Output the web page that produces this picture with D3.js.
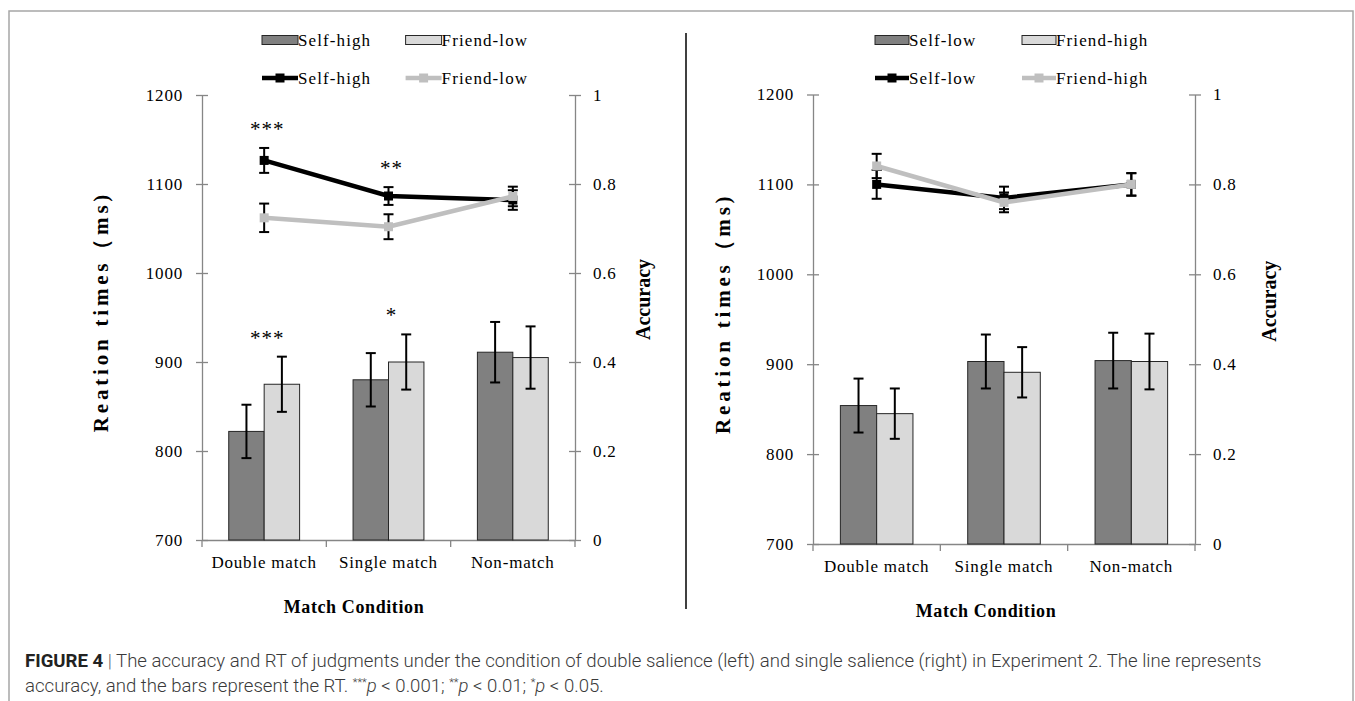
<!DOCTYPE html>
<html>
<head>
<meta charset="utf-8">
<script src="https://cdn.jsdelivr.net/npm/d3@7"></script>
<style>
  body { margin: 0; background: #fff; }
  text { font-family: "Liberation Serif", "Times New Roman", serif; }
</style>
</head>
<body>
<svg id="fig" width="1355" height="701"></svg>
<script>
const conditions = ['Double match', 'Single match', 'Non-match'];
const rtTicks = [700, 800, 900, 1000, 1100, 1200];
const accTicks = [0, 0.2, 0.4, 0.6, 0.8, 1];

// left panel: double salience
const leftSeries = ['Self-high', 'Friend-low'];
const leftRT = [[822, 880, 911], [875, 900, 905]];
const leftRTErr = [[30, 30, 34], [31, 31, 35]];
const leftAcc = [[0.853, 0.773, 0.764], [0.724, 0.704, 0.772]];
const leftAccErr = [[0.028, 0.02, 0.022], [0.032, 0.028, 0.022]];
const leftLineStars = ['***', '**', ''];
const leftBarStars = ['***', '*', ''];

// right panel: single salience
const rightSeries = ['Self-low', 'Friend-high'];
const rightRT = [[854, 903, 904], [845, 891, 903]];
const rightRTErr = [[30, 30, 31], [28, 28, 31]];
const rightAcc = [[0.80, 0.77, 0.80], [0.841, 0.76, 0.80]];
const rightAccErr = [[0.032, 0.025, 0.025], [0.027, 0.022, 0.025]];
const rightLineStars = ['', '', ''];
const rightBarStars = ['', '', ''];

const barFill = ['#808080', '#d9d9d9'];
const lineColor = ['#000000', '#bfbfbf'];
const axisColor = '#868686';

const svg = d3.select('#fig');

// outer frame and divider
svg.append('rect')
  .attr('x', 9).attr('y', 11).attr('width', 1344).attr('height', 720)
  .attr('fill', 'none').attr('stroke', '#a6a6a6').attr('stroke-width', 1.5);
svg.append('line')
  .attr('x1', 686).attr('x2', 686).attr('y1', 33).attr('y2', 609)
  .attr('stroke', '#000').attr('stroke-width', 1.5);

const panels = [
  { x0: 202, x1: 575, y0: 95, y1: 540, series: leftSeries, rt: leftRT, rtErr: leftRTErr,
    acc: leftAcc, accErr: leftAccErr, lineStars: leftLineStars, barStars: leftBarStars,
    legendX: [262, 405.6], swatchW: 36, yTitleX: 108, accTitleX: 650, xTitleX: 354 },
  { x0: 813, x1: 1195, y0: 94.5, y1: 544, series: rightSeries, rt: rightRT, rtErr: rightRTErr,
    acc: rightAcc, accErr: rightAccErr, lineStars: rightLineStars, barStars: rightBarStars,
    legendX: [875, 1022], swatchW: 34, yTitleX: 730, accTitleX: 1276, xTitleX: 986 }
];

function errBar(g, cx, yTop, yBot) {
  const cap = 5;
  g.append('line').attr('x1', cx).attr('x2', cx).attr('y1', yTop).attr('y2', yBot);
  g.append('line').attr('x1', cx - cap).attr('x2', cx + cap).attr('y1', yTop).attr('y2', yTop);
  g.append('line').attr('x1', cx - cap).attr('x2', cx + cap).attr('y1', yBot).attr('y2', yBot);
}

function styleAxis(a) {
  a.attr('font-family', '"Liberation Serif", serif').attr('font-size', 17);
  a.select('.domain').attr('stroke', axisColor).attr('stroke-width', 1.3);
  a.selectAll('.tick line').attr('stroke', axisColor).attr('stroke-width', 1.3);
  a.selectAll('.tick text').attr('fill', '#000').attr('letter-spacing', 0.8);
}

function drawPanel(p) {
  const g = svg.append('g');
  const x = d3.scaleBand().domain(conditions).range([p.x0, p.x1]);
  const yRT = d3.scaleLinear().domain([700, 1200]).range([p.y1, p.y0]);
  const yAcc = d3.scaleLinear().domain([0, 1]).range([p.y1, p.y0]);
  const half = x.bandwidth() * 0.285;
  const xs = d3.scaleBand().domain([0, 1]).range([-half, half]);
  const cx = i => x(conditions[i]) + x.bandwidth() / 2;

  // axes
  const ax = g.append('g').attr('transform', `translate(${p.x0},0)`)
    .call(d3.axisLeft(yRT).tickValues(rtTicks).tickFormat(d3.format('d'))
      .tickSize(6).tickSizeOuter(0).tickPadding(13));
  styleAxis(ax);
  ax.selectAll('.tick line').attr('x1', 6);

  const ar = g.append('g').attr('transform', `translate(${p.x1},0)`)
    .call(d3.axisRight(yAcc).tickValues(accTicks).tickFormat(d => String(d))
      .tickSize(6).tickSizeOuter(0).tickPadding(12));
  styleAxis(ar);
  ar.selectAll('.tick line').attr('x1', -6);

  const ab = g.append('g').attr('transform', `translate(0,${p.y1})`)
    .call(d3.axisBottom(x).tickSize(0).tickSizeOuter(0).tickPadding(16));
  styleAxis(ab);
  const bounds = conditions.map(c => x(c)).concat([x.range()[1]]);
  ab.selectAll('.bound').data(bounds).join('line').attr('class', 'bound')
    .attr('x1', d => d).attr('x2', d => d).attr('y1', 0).attr('y2', 7)
    .attr('stroke', axisColor).attr('stroke-width', 1.3);

  // bars
  p.rt.forEach((vals, s) => {
    g.append('g').selectAll('rect').data(vals).join('rect')
      .attr('x', (d, i) => cx(i) + xs(s))
      .attr('y', d => yRT(d))
      .attr('width', xs.bandwidth())
      .attr('height', d => yRT(700) - yRT(d))
      .attr('fill', barFill[s]).attr('stroke', '#262626').attr('stroke-width', 1);
  });
  const be = g.append('g').attr('stroke', '#000').attr('stroke-width', 2);
  p.rt.forEach((vals, s) => {
    vals.forEach((d, i) => {
      const bx = cx(i) + xs(s) + xs.bandwidth() / 2;
      errBar(be, bx, yRT(d + p.rtErr[s][i]), yRT(d - p.rtErr[s][i]));
    });
  });

  // accuracy lines
  const line = d3.line().x((d, i) => cx(i)).y(d => yAcc(d));
  p.acc.forEach((vals, s) => {
    g.append('path').datum(vals).attr('d', line)
      .attr('fill', 'none').attr('stroke', lineColor[s]).attr('stroke-width', 4.5);
    const le = g.append('g').attr('stroke', '#000').attr('stroke-width', 2);
    vals.forEach((d, i) => errBar(le, cx(i), yAcc(d + p.accErr[s][i]), yAcc(d - p.accErr[s][i])));
    g.append('g').selectAll('rect').data(vals).join('rect')
      .attr('x', (d, i) => cx(i) - 4.5).attr('y', d => yAcc(d) - 4.5)
      .attr('width', 9).attr('height', 9).attr('fill', lineColor[s]);
  });

  // significance stars
  const starY = (top) => top - 22 + 0.47 * 21;
  conditions.forEach((c, i) => {
    if (p.lineStars[i]) {
      const top = Math.min(...p.acc.map((v, s) => yAcc(v[i] + p.accErr[s][i])));
      g.append('text').attr('x', cx(i) + 3).attr('y', starY(top)).attr('text-anchor', 'middle')
        .attr('font-size', 21).attr('letter-spacing', 1).text(p.lineStars[i]);
    }
    if (p.barStars[i]) {
      const top = Math.min(...p.rt.map((v, s) => yRT(v[i] + p.rtErr[s][i])));
      g.append('text').attr('x', cx(i) + 3).attr('y', starY(top)).attr('text-anchor', 'middle')
        .attr('font-size', 21).attr('letter-spacing', 1).text(p.barStars[i]);
    }
  });

  // axis titles
  g.append('text').attr('transform', `translate(${p.yTitleX},${(p.y0 + p.y1) / 2 - 6}) rotate(-90)`)
    .attr('text-anchor', 'middle').attr('font-size', 21).attr('font-weight', 'bold')
    .attr('letter-spacing', 3.8).text('Reation times（ms)');
  g.append('text').attr('transform', `translate(${p.accTitleX},${(p.y0 + p.y1) / 2 - 18}) rotate(-90)`)
    .attr('text-anchor', 'middle').attr('font-size', 20).attr('font-weight', 'bold')
    .text('Accuracy');
  g.append('text').attr('x', p.xTitleX).attr('y', p.y1 + 73).attr('text-anchor', 'middle')
    .attr('font-size', 18).attr('font-weight', 'bold').attr('letter-spacing', 0.6)
    .text('Match Condition');

  // legend
  const lg = g.append('g');
  p.series.forEach((name, s) => {
    const lx = p.legendX[s];
    lg.append('rect').attr('x', lx).attr('y', 35.5).attr('width', p.swatchW).attr('height', 9)
      .attr('fill', barFill[s]).attr('stroke', '#262626').attr('stroke-width', 1);
    lg.append('text').attr('x', lx + p.swatchW).attr('y', 40).attr('dy', '0.35em')
      .attr('font-size', 17).attr('letter-spacing', 1.1).text(name);
    lg.append('line').attr('x1', lx).attr('x2', lx + p.swatchW).attr('y1', 78).attr('y2', 78)
      .attr('stroke', lineColor[s]).attr('stroke-width', 4.5);
    lg.append('rect').attr('x', lx + p.swatchW / 2 - 4.5).attr('y', 73.5).attr('width', 9).attr('height', 9)
      .attr('fill', lineColor[s]);
    lg.append('text').attr('x', lx + p.swatchW).attr('y', 78).attr('dy', '0.35em')
      .attr('font-size', 17).attr('letter-spacing', 1.1).text(name);
  });
}

panels.forEach(drawPanel);

// caption
const cap = svg.append('g').attr('font-size', 18.6).attr('fill', '#3a3a3a');
const l1 = cap.append('text').attr('x', 25).attr('y', 667)
  .style('font-family', 'Roboto, "Liberation Sans", sans-serif').attr('font-weight', 300);
l1.append('tspan').attr('font-weight', 'bold').attr('fill', '#222').text('FIGURE 4');
l1.append('tspan').attr('fill', '#666').text(' | ');
l1.append('tspan').text('The accuracy and RT of judgments under the condition of double salience (left) and single salience (right) in Experiment 2. The line represents');
const l2 = cap.append('text').attr('x', 25).attr('y', 692)
  .style('font-family', 'Roboto, "Liberation Sans", sans-serif').attr('font-weight', 300);
l2.append('tspan').text('accuracy, and the bars represent the RT. ');
const sig = [['***', ' < 0.001; '], ['**', ' < 0.01; '], ['*', ' < 0.05.']];
sig.forEach(([st, rest]) => {
  l2.append('tspan').attr('font-size', 11).attr('dy', -6).text(st);
  l2.append('tspan').attr('font-style', 'italic').attr('dy', 6).text('p');
  l2.append('tspan').text(rest);
});
</script>
</body>
</html>
